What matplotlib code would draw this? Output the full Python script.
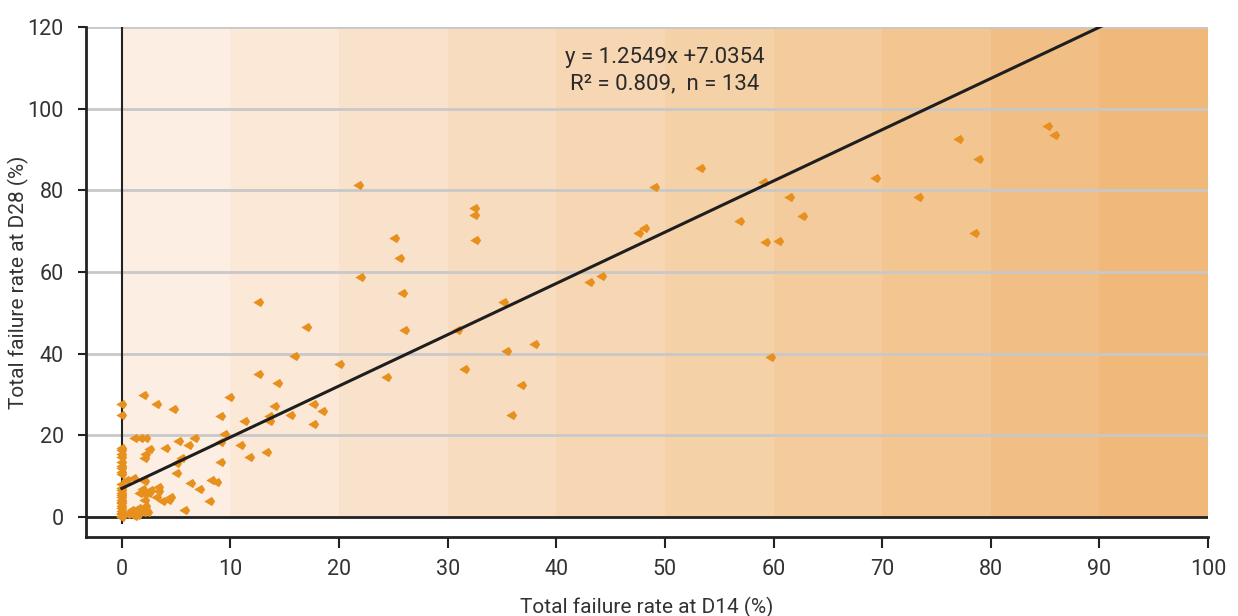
import numpy as np
import matplotlib
matplotlib.use("Agg")
import matplotlib.pyplot as plt
from matplotlib.path import Path

plt.rcParams['font.family'] = ['Roboto', 'DejaVu Sans']

# failure rates (%) at day 14 and day 28
d14 = [85.3, 85.9, 77.1, 78.9, 69.4, 73.4, 78.5, 53.3, 59.1, 49.1,
       61.5, 62.7, 56.9, 48.2, 47.6, 59.3, 60.5, 43.1, 44.2, 59.8,
       21.8, 32.5, 32.5, 25.1, 32.6, 25.6, 22.0, 25.9, 35.2, 26.1,
       30.9, 38.0, 35.5, 20.1, 31.6, 24.4, 36.8, 35.9, 12.6, 17.0,
       15.9, 12.6, 14.4, 10.0, 14.1, 17.7, 18.5, 9.1, 13.6, 13.6,
       15.6, 11.3, 17.7, 9.5, 9.1, 11.0, 11.8, 13.4, 9.1,
       2.0, 3.2, 4.8, 0, 0, 1.2, 1.8, 2.2, 6.7, 5.3,
       6.2, 4.1, 2.6, 0, 0, 2.2, 2.1, 5.5, 0, 5.1,
       0, 5.1, 1.1, 2.1, 6.4, 8.3, 8.8, 3.4, 7.2, 0,
       2.7, 1.7, 3.4, 0, 2.1, 0, 3.2, 4.5, 2.1, 3.8,
       8.1, 0, 2.2, 0, 1.4, 1.1, 2.0, 1.5, 5.8, 0,
       0, 0, 0, 0, 0, 0, 0, 0, 0, 0,
       0, 0, 0, 0, 0.9, 1.2, 1.8, 2.4, 0.6, 1.6,
       2.5, 1.9, 4.3, 0.5, 0]
d28 = [95.8, 93.5, 92.5, 87.6, 83.1, 78.3, 69.5, 85.4, 82.1, 80.9,
       78.3, 73.7, 72.6, 70.7, 69.6, 67.3, 67.5, 57.6, 59.0, 39.1,
       81.4, 75.8, 74.1, 68.4, 67.8, 63.5, 58.8, 55.0, 52.6, 45.8,
       45.8, 42.5, 40.7, 37.5, 36.2, 34.3, 32.3, 25.0, 52.7, 46.5,
       39.4, 35.0, 32.8, 29.3, 27.3, 27.6, 25.9, 24.8, 24.7, 23.6,
       25.0, 23.6, 22.7, 20.3, 18.4, 17.6, 14.7, 15.9, 13.4,
       30.0, 27.8, 26.6, 27.6, 25.0, 19.4, 19.4, 19.3, 19.3, 18.6,
       17.6, 17.0, 16.6, 16.4, 14.8, 15.4, 14.5, 14.5, 12.5, 13.2,
       11.1, 10.7, 9.5, 8.9, 8.4, 9.1, 8.5, 7.4, 6.8, 6.6,
       6.6, 6.0, 6.4, 5.4, 5.6, 4.2, 5.0, 5.0, 4.2, 3.9,
       3.9, 3.4, 2.8, 2.2, 1.7, 1.2, 1.2, 0.5, 1.7, 0.7,
       0.0, 17.0, 15.5, 13.5, 12.0, 10.5, 7.2, 6.0, 5.0, 3.8,
       2.8, 1.5, 1.0, 0.3, 1.8, 0.4, 1.8, 1.3, 0.8, 2.2,
       5.8, 6.8, 4.2, 9.0, 8.0]

slope = 1.2549
intercept = 7.0354
r_squared = 0.809

x_ticks = [0, 10, 20, 30, 40, 50, 60, 70, 80, 90, 100]
y_ticks = [0, 20, 40, 60, 80, 100, 120]

fig = plt.figure(figsize=(12.38, 6.16), dpi=100)
ax = fig.add_axes([0.0695, 0.128, 0.9063, 0.828])
ax.set_xlim(-3.3, 100)
ax.set_ylim(-4.9, 120)

# shaded bands, lighter on the left, darker on the right
light = np.array([252, 238, 226]) / 255
dark = np.array([240, 185, 121]) / 255
for i in range(10):
    t = i / 9
    ax.axvspan(x_ticks[i], x_ticks[i + 1], ymin=4.9 / 124.9, ymax=1,
               color=light + (dark - light) * t, lw=0, zorder=0)

# horizontal grid
for yv in y_ticks[1:]:
    ax.axhline(yv, color='#c8c8c8', lw=2, zorder=1)
ax.axhline(0, color='#222222', lw=2, zorder=2)
ax.plot([0, 0], [-1.5, 120], color='#222222', lw=1.5, zorder=2)

kite = Path([(-1, 0), (0.25, 0.75), (0.75, 0), (0.25, -0.75), (-1, 0)],
            [Path.MOVETO, Path.LINETO, Path.LINETO, Path.LINETO, Path.CLOSEPOLY])
ax.scatter(d14, d28, marker=kite, s=80, color='#e8901e', lw=0, zorder=3)

xs = np.array([0, 100])
ax.plot(xs, slope * xs + intercept, color='#1e1e1e', lw=2.2, zorder=4)

ax.text(50, 109.3, f"y = {slope}x +{intercept}\nR² = {r_squared},  n = {len(d14)}",
        ha='center', va='center', fontsize=16, color='#2a2a2a',
        linespacing=1.35, zorder=5)

for s in ['top', 'right']:
    ax.spines[s].set_visible(False)
for s in ['left', 'bottom']:
    ax.spines[s].set_color('#222222')
    ax.spines[s].set_linewidth(2)

ax.set_xticks(x_ticks)
ax.set_yticks(y_ticks)
ax.tick_params(axis='x', length=8, width=1.5, color='#222222',
               labelsize=15.5, labelcolor='#333333', pad=8)
ax.tick_params(axis='y', length=6, width=1.5, color='#222222',
               labelsize=15.5, labelcolor='#333333', pad=10)

ax.set_xlabel('Total failure rate at D14 (%)', fontsize=15, color='#333333', labelpad=12)
ax.set_ylabel('Total failure rate at D28 (%)', fontsize=15, color='#333333')
ax.yaxis.set_label_coords(-0.051, 0.5)

fig.savefig('out.png', dpi=100)
